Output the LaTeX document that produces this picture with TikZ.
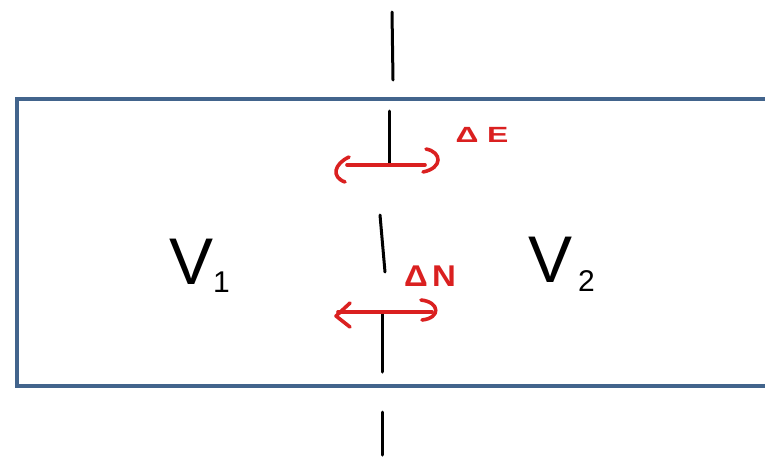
\documentclass[tikz,border=0pt]{standalone}
\usepackage{fontspec}
\setmainfont{Liberation Sans}
\definecolor{boxblue}{RGB}{66,100,140}
\definecolor{penred}{RGB}{218,32,32}
\begin{document}
\begin{tikzpicture}[x=1pt,y=-1pt,
  blackpen/.style={line width=3pt,line cap=round,black},
  redpen/.style={line width=3.6pt,line cap=round,line join=round,penred},
  boxline/.style={line width=4pt,boxblue},
  bigtxt/.style={font=\fontsize{66}{66}\selectfont,inner sep=0pt},
  subtxt/.style={font=\fontsize{30}{30}\selectfont,inner sep=0pt},
  redtxt/.style={font=\bfseries\fontsize{22}{22}\selectfont,text=penred,inner sep=0pt}]
\useasboundingbox (0,0) rectangle (765,458);
\clip (0,0) rectangle (765,458);
% box (open to the right)
\draw[boxline] (770,99) -- (17,99) -- (17,386) -- (770,386);
% dashed wall (hand drawn segments)
\draw[blackpen] (392,12) -- (393,80);
\draw[blackpen] (389,111) -- (389,164);
\draw[blackpen] (380,215) -- (385,272);
\draw[blackpen] (382,314) -- (382,372);
\draw[blackpen] (382,412) -- (382,455);
% energy exchange arrow
\draw[redpen] (347,165) -- (425,165);
\draw[redpen] (349,157) .. controls (334,164) and (331,177) .. (345,182);
\draw[redpen] (426,149) .. controls (442,152) and (443,168) .. (423,172);
\node[redtxt] (dE) at (482,135) {\scalebox{1.45}[1]{Δ\hspace{6pt}E}};
% particle exchange arrow
\draw[redpen] (338,312) -- (432,312);
\draw[redpen] (350,303) -- (336,316) -- (350,327);
\draw[redpen] (421,300) .. controls (440,302) and (441,318) .. (422,320);
\node[redtxt,font=\bfseries\fontsize{30}{30}\selectfont] (dN) at (430,276) {\scalebox{1.1}[1]{Δ\hspace{4pt}N}};
% volumes
\node[bigtxt] (V1) at (192,262) {V};
\node[subtxt,anchor=west] (s1) at (213,282) {1};
\node[bigtxt] (V2) at (551,260) {V};
\node[subtxt,anchor=west] (s2) at (578,281) {2};
\end{tikzpicture}
\end{document}
